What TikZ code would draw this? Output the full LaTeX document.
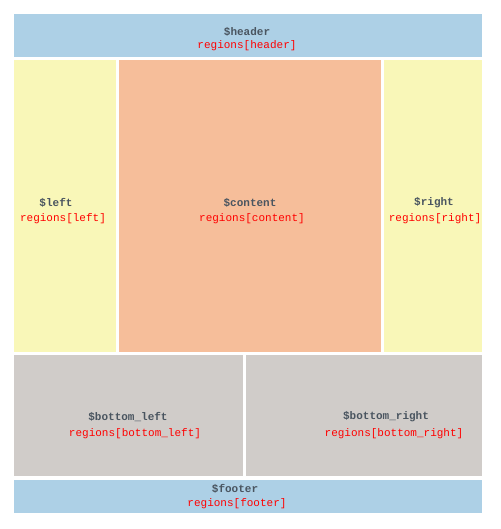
\documentclass[tikz,border=0pt]{standalone}
\usepackage{fontspec}
\setmonofont{Liberation Mono}
\definecolor{hdr}{HTML}{ADD0E6}
\definecolor{yel}{HTML}{F9F7B8}
\definecolor{org}{HTML}{F6BE9A}
\definecolor{gry}{HTML}{D0CCC9}
\definecolor{lbl}{HTML}{4A5560}
\definecolor{reg}{HTML}{FF0000}
\begin{document}
\begin{tikzpicture}[x=1pt,y=-1pt,
  region/.style={inner sep=0pt,outer sep=0pt},
  var/.style={font=\ttfamily\bfseries\fontsize{11}{12}\selectfont,text=lbl,inner sep=0pt},
  regtxt/.style={font=\ttfamily\fontsize{11}{12}\selectfont,text=reg,inner sep=0pt}]
\useasboundingbox[fill=white] (0,0) rectangle (500,529);
\fill[hdr] (14,14) rectangle (482,57);
\fill[yel] (14,60) rectangle (116,352);
\fill[org] (119,60) rectangle (381,352);
\fill[yel] (384,60) rectangle (482,352);
\fill[gry] (14,355) rectangle (243,476);
\fill[gry] (246,355) rectangle (482,476);
\fill[hdr] (14,480) rectangle (482,513);
\node[var] (h1) at (247,32) {\$header};
\node[regtxt] (h2) at (247,46) {regions[header]};
\node[var] (l1) at (56,203) {\$left};
\node[regtxt] (l2) at (63,219) {regions[left]};
\node[var] (c1) at (250,203) {\$content};
\node[regtxt] (c2) at (252,219) {regions[content]};
\node[var] (r1) at (434,203) {\$right};
\node[regtxt] (r2) at (435,219) {regions[right]};
\node[var] (bl1) at (128,417) {\$bottom\_left};
\node[regtxt] (bl2) at (135,434) {regions[bottom\_left]};
\node[var] (br1) at (386,417) {\$bottom\_right};
\node[regtxt] (br2) at (394,434) {regions[bottom\_right]};
\node[var] (f1) at (235,489) {\$footer};
\node[regtxt] (f2) at (237,504) {regions[footer]};
\end{tikzpicture}
\end{document}
